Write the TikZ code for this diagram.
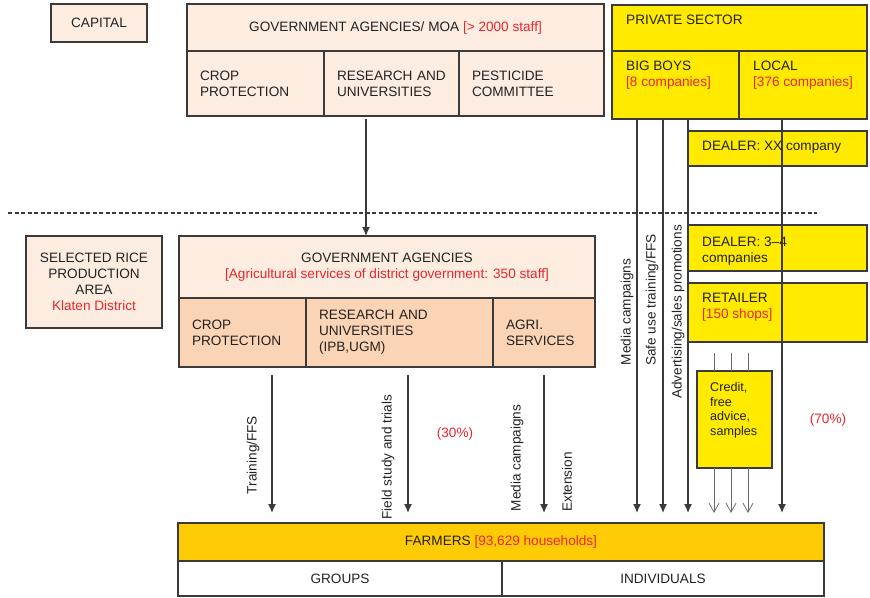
\documentclass[tikz,border=0pt]{standalone}
\usepackage{fontspec}
\setmainfont{Liberation Sans}
\usetikzlibrary{arrows.meta}
\definecolor{peach}{HTML}{FDEDE1}
\definecolor{peachdk}{HTML}{FAD4B4}
\definecolor{yel}{HTML}{FFEA00}
\definecolor{farm}{HTML}{FFCB05}
\definecolor{edge}{HTML}{3A3A3A}
\definecolor{ink}{HTML}{222222}
\definecolor{hot}{HTML}{E8262C}
\newcommand{\hot}[1]{\textcolor{hot}{#1}}

\begin{document}
\begin{tikzpicture}[x=1pt,y=-1pt,
  every node/.style={font=\fontsize{13.6}{16}\selectfont, text=ink},
  box/.style={draw=edge, line width=1.3pt, inner sep=0pt, outer sep=0pt, anchor=north west, align=center},
  cell/.style={box, align=left, inner xsep=13pt, text width=#1},
  txt/.style={inner sep=0pt, align=left, anchor=north west},
  side/.style={inner sep=0pt, rotate=90},
  arr/.style={draw=edge, line width=1.3pt, -{Latex[length=9pt,width=8pt]}},
  thinarr/.style={draw=edge!75, line width=.8pt, -{Straight Barb[length=9pt,width=10pt]}}]
  \useasboundingbox (0,0) rectangle (870,597);

  % capital level
  \node[box, fill=peach, minimum width=96pt, minimum height=38pt] (capital) at (51,4) {CAPITAL};
  \node[box, fill=peach, minimum width=417pt, minimum height=47pt] (govhead) at (187,4)
       {GOVERNMENT AGENCIES/ MOA \hot{[> 2000 staff]}};
  \node[cell=111pt, fill=peach, minimum height=65pt] (gcrop) at (187,51) {CROP\\PROTECTION};
  \node[cell=109pt, fill=peach, minimum height=65pt] (gres) at (324,51) {RESEARCH~AND\\UNIVERSITIES};
  \node[cell=119pt, fill=peach, minimum height=65pt] (gpest) at (459,51) {PESTICIDE\\COMMITTEE};

  % private sector
  \node[box, fill=yel, minimum width=255pt, minimum height=46pt] (private) at (612,5) {};
  \node[txt, anchor=west] (privname) at (626,20) {PRIVATE SECTOR};
  \node[box, fill=yel, minimum width=127pt, minimum height=68pt] (bigboys) at (612,51) {};
  \node[box, fill=yel, minimum width=128pt, minimum height=68pt] (local) at (739,51) {};
  \node[txt] (bigname) at (626,61) {BIG BOYS\\\hot{[8 companies]}};
  \node[txt] (localname) at (753,61) {LOCAL\\\hot{[376 companies]}};
  \node[box, fill=yel, minimum width=179pt, minimum height=35pt] (dealerxx) at (688,131) {};
  \node[txt] (dealerxxname) at (702,141) {DEALER: XX company};

  % boundary capital / district
  \coordinate (cutL) at (8,213);
  \coordinate (cutR) at (817,213);
  \draw[edge, line width=1.2pt, dash pattern=on 4pt off 2.5pt] (cutL) -- (cutR);

  % district level
  \node[box, fill=peach, minimum width=136pt, minimum height=92pt] (area) at (26,236)
       {SELECTED RICE\\PRODUCTION\\AREA\\\hot{Klaten District}};
  \node[box, fill=peach, minimum width=416pt, minimum height=62pt] (dhead) at (179,236)
       {GOVERNMENT AGENCIES\\\hot{[Agricultural services of district government: 350 staff]}};
  \node[cell=101pt, fill=peachdk, minimum height=69pt] (dcrop) at (179,298) {CROP\\PROTECTION};
  \node[cell=161pt, fill=peachdk, minimum height=69pt] (dres) at (306,298) {RESEARCH AND\\UNIVERSITIES\\(IPB,UGM)};
  \node[cell=76pt, fill=peachdk, minimum height=69pt] (dagri) at (493,298) {AGRI.\\SERVICES};

  \node[box, fill=yel, minimum width=179pt, minimum height=46pt] (dealer34) at (688,225) {};
  \node[txt] (dealer34name) at (702,237) {DEALER: 3--4\\companies};
  \node[box, fill=yel, minimum width=179pt, minimum height=59pt] (retailer) at (688,283) {};
  \node[txt] (retailname) at (702,293) {RETAILER\\\hot{[150 shops]}};
  \node[box, fill=yel, minimum width=75pt, minimum height=97pt] (credit) at (697,371) {};
  \node[txt, font=\fontsize{12.6}{14.7}\selectfont] (credtxt) at (710,382) {Credit,\\free\\advice,\\samples};

  % farmers
  \node[box, fill=farm, minimum width=646pt, minimum height=38pt] (farmers) at (178,523)
       {FARMERS \hot{[93,629 households]}};
  \node[box, fill=white, minimum width=324pt, minimum height=35pt] (groups) at (178,561) {GROUPS};
  \node[box, fill=white, minimum width=322pt, minimum height=35pt] (indiv) at (502,561) {INDIVIDUALS};

  % flows
  \draw[arr, shorten <=3pt] (366,0 |- gres.south) -- (366,0 |- dhead.north);
  \foreach \xx in {272,408,544}
    \draw[arr, shorten <=8pt, shorten >=10pt] (\xx,0 |- dcrop.south) -- (\xx,0 |- farmers.north);
  \foreach \xx in {637,663,688}
    \draw[arr, shorten >=10pt] (\xx,0 |- bigboys.south) -- (\xx,0 |- farmers.north);
  \draw[arr, shorten >=10pt] (782,0 |- local.south) -- (782,0 |- farmers.north);
  \foreach \xx in {714,731,748}{
    \draw[draw=edge!75, line width=.8pt, shorten <=11pt] (\xx,0 |- retailer.south) -- (\xx,0 |- credit.north);
    \draw[thinarr, shorten >=10pt] (\xx,0 |- credit.south) -- (\xx,0 |- farmers.north);
  }

  % flow labels
  \node[side] (lbltrain) at (253,455) {Training/FFS};
  \node[side] (lblfield) at (388,457) {Field study and trials};
  \node[side] (lblmedia) at (517,458) {Media campaigns};
  \node[side] (lblext) at (567,482) {Extension};
  \node[inner sep=0pt, text=hot] (share30) at (455,434) {(30\%)};
  \node[side] (lblpmedia) at (627,312) {Media campaigns};
  \node[side] (lblsafe) at (652,300) {Safe use training/FFS};
  \node[side] (lbladv) at (678,312) {Advertising/sales promotions};
  \node[inner sep=0pt, text=hot] (share70) at (828,420) {(70\%)};
\end{tikzpicture}
\end{document}
